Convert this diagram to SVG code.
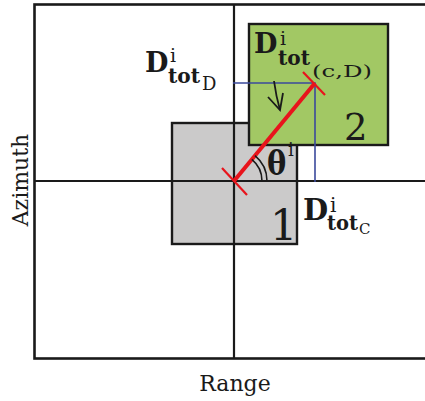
<svg xmlns="http://www.w3.org/2000/svg" width="425" height="401" viewBox="0 0 425 401">
<style>
.ax{stroke:#1a1a1a;stroke-width:2.2;fill:none}
.bl{stroke:#3b4a9c;stroke-width:1.6;fill:none}
.rd{stroke:#e8141c;fill:none;stroke-linecap:butt}
.s{font-family:"DejaVu Serif","Liberation Serif",serif;fill:#1a1a1a}
.b{font-weight:bold}
</style>
<rect x="0" y="0" width="425" height="401" fill="#ffffff"/>
<g id="frame">
<rect x="34.5" y="4.5" width="400" height="354" fill="#ffffff" stroke="#1a1a1a" stroke-width="2.6"/>
</g>
<g id="cell1">
<rect x="172" y="123" width="125" height="121" fill="#cbcaca" stroke="#1a1a1a" stroke-width="2.4"/>
</g>
<g id="axes">
<line class="ax" x1="234" y1="4" x2="234" y2="358"/>
<line class="ax" x1="34" y1="181" x2="425" y2="181"/>
</g>
<g id="cell2">
<rect x="249" y="24" width="139" height="121" fill="#a2c864" stroke="#1a1a1a" stroke-width="2.4"/>
</g>
<g id="connectors">
<polyline class="bl" points="233,83 315,83 315,182"/>
<line class="rd" x1="234" y1="181" x2="315" y2="83" stroke-width="4"/>
<line class="rd" x1="303" y1="72" x2="325" y2="95" stroke-width="2.2"/>
<line class="rd" x1="222" y1="168" x2="247" y2="195" stroke-width="2.2"/>
<path d="M262,181 A28,28 0 0 0 251.8,159.4" stroke="#1a1a1a" stroke-width="1.6" fill="none"/>
<path d="M267,181 A33,33 0 0 0 255,155.6" stroke="#1a1a1a" stroke-width="1.6" fill="none"/>
<path d="M274,81 Q276,96 280,110" stroke="#1a1a1a" stroke-width="1.8" fill="none"/>
<path d="M268,97 L280,110 L283,93" stroke="#1a1a1a" stroke-width="1.8" fill="none"/>
</g>
<g id="labels">
<text class="s b" x="145" y="72" font-size="27">D</text>
<text class="s" x="170" y="62" font-size="19">i</text>
<text class="s b" x="168" y="83" font-size="21" textLength="32" lengthAdjust="spacingAndGlyphs">tot</text>
<text class="s" x="202" y="90" font-size="18">D</text>

<text class="s b" x="254" y="53" font-size="27">D</text>
<text class="s" x="280" y="45" font-size="19">i</text>
<text class="s b" x="278" y="65" font-size="21" textLength="32" lengthAdjust="spacingAndGlyphs">tot</text>
<text class="s" x="312" y="77" font-size="17" textLength="60" lengthAdjust="spacingAndGlyphs">(c,D)</text>

<text class="s b" x="303" y="220" font-size="29">D</text>
<text class="s" x="330" y="212" font-size="20">i</text>
<text class="s b" x="327" y="230" font-size="21" textLength="31" lengthAdjust="spacingAndGlyphs">tot</text>
<text class="s" x="359" y="234" font-size="15">C</text>

<text class="s b" x="267" y="175" font-size="34" transform="translate(267,0) scale(0.85,1) translate(-267,0)">θ</text>
<text class="s" x="288" y="156" font-size="18">i</text>

<text class="s" x="270" y="240" font-size="43">1</text>
<text class="s" x="344" y="140" font-size="37">2</text>

<text class="s" x="235" y="391" font-size="22" text-anchor="middle">Range</text>
<text class="s" x="0" y="0" font-size="22" text-anchor="middle" transform="translate(28,180) rotate(-90)">Azimuth</text>
</g>
</svg>
